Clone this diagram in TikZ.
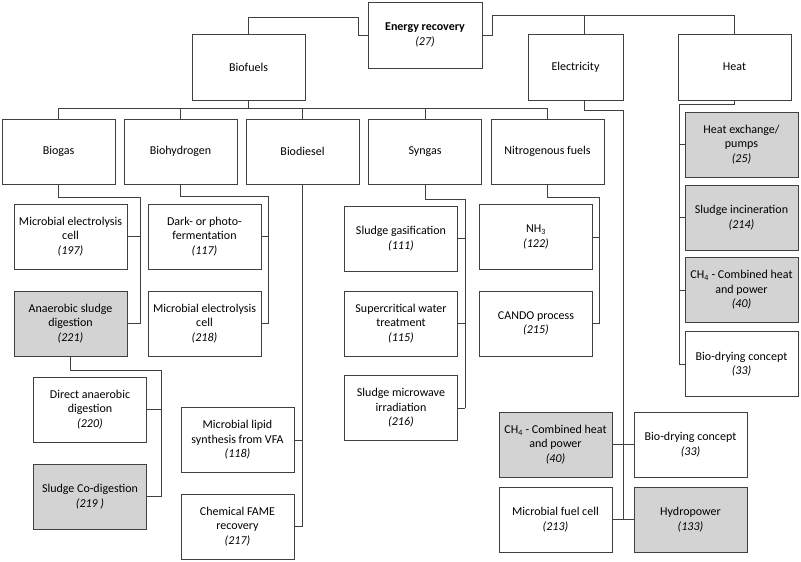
\documentclass[tikz,border=0pt]{standalone}
\usepackage{fontspec}
\setmainfont{Carlito}
\usepackage{tikz}
\usetikzlibrary{calc}

\definecolor{boxgray}{RGB}{211,211,211}
\definecolor{linegray}{RGB}{64,64,64}

\begin{document}
\begin{tikzpicture}[x=1pt, y=-1pt,
  box/.style={draw=linegray, line width=0.9pt, fill=white, minimum width=113pt,
    minimum height=65pt, inner sep=1pt, align=center, font=\fontsize{12}{14.5}\selectfont},
  shaded/.style={box, fill=boxgray},
  link/.style={draw=linegray, line width=0.9pt}]
  \useasboundingbox (0,0) rectangle (801,562);

  % Top level
  \node[box, minimum width=114pt, minimum height=66pt] (energy) at (425,35) {\textbf{Energy recovery}\\\textit{(27)}};
  \node[box, minimum height=66pt] (biofuels) at (248.5,67) {Biofuels};
  \node[box, minimum width=95pt, minimum height=66pt] (elec) at (575.5,67) {Electricity};
  \node[box, minimum height=66pt] (heat) at (734.5,67) {Heat};

  \coordinate (etop) at (492,15);
  \draw[link] (energy.west) -- ++(-9,0) -- ++(0,-18) -| (biofuels.north);
  \draw[link] (energy.east) -| (etop) -| (heat.north);
  \draw[link] ([xshift=9pt]elec.north) |- (etop);

  % Biofuel types
  \node[box] (biogas) at (58.5,151.5) {Biogas};
  \node[box] (biohyd) at (180.5,151.5) {Biohydrogen};
  \node[box] (biodiesel) at (302.5,151.5) {Biodiesel};
  \node[box] (syngas) at (425,151.5) {Syngas};
  \node[box] (nitro) at (547.5,151.5) {Nitrogenous fuels};

  \coordinate (fbus) at (248.5,108);
  \draw[link] (biofuels.south) -- (fbus);
  \foreach \n in {biogas,biohyd,biodiesel,syngas,nitro}
    \draw[link] (\n.north) |- (fbus);

  % Biogas
  \node[box] (mec1) at (70.5,236.5) {Microbial electrolysis\\cell\\\textit{(197)}};
  \node[shaded] (asd) at (70.5,323.5) {Anaerobic sludge\\digestion\\\textit{(221)}};
  \coordinate (gbus) at (140,197);
  \draw[link] (biogas.south) |- (gbus) -- (gbus |- asd.east);
  \foreach \n in {mec1,asd}
    \draw[link] (\n.east) -- (\n.east -| gbus);

  \node[box] (dad) at (90,409.5) {Direct anaerobic\\digestion\\\textit{(220)}};
  \node[shaded] (codig) at (90,496.5) {Sludge Co-digestion\\\textit{(219 )}};
  \coordinate (abus) at (161,370);
  \draw[link] (asd.south) |- (abus) -- (abus |- codig.east);
  \foreach \n in {dad,codig}
    \draw[link] (\n.east) -- (\n.east -| abus);

  % Biohydrogen
  \node[box] (dark) at (204.5,236.5) {Dark- or photo-\\fermentation\\\textit{(117)}};
  \node[box] (mec2) at (204.5,323.5) {Microbial electrolysis\\cell\\\textit{(218)}};
  \coordinate (hybus) at (268,196);
  \draw[link] (biohyd.south) |- (hybus) -- (hybus |- mec2.east);
  \foreach \n in {dark,mec2}
    \draw[link] (\n.east) -- (\n.east -| hybus);

  % Biodiesel
  \node[box] (lipid) at (237.5,440) {Microbial lipid\\synthesis from VFA\\\textit{(118)}};
  \node[box] (fame) at (237.5,526.5) {Chemical FAME\\recovery\\\textit{(217)}};
  \draw[link] (biodiesel.south) -- (biodiesel.south |- fame.east);
  \foreach \n in {lipid,fame}
    \draw[link] (\n.east) -- (\n.east -| biodiesel.south);

  % Syngas
  \node[box] (gasif) at (401,238.5) {Sludge gasification\\\textit{(111)}};
  \node[box] (scw) at (401,323.5) {Supercritical water\\treatment\\\textit{(115)}};
  \node[box] (micro) at (401,408) {Sludge microwave\\irradiation\\\textit{(216)}};
  \coordinate (sbus) at (465,199);
  \draw[link] (syngas.south) |- (sbus) -- (sbus |- micro.east);
  \foreach \n in {gasif,scw,micro}
    \draw[link] (\n.east) -- (\n.east -| sbus);

  % Nitrogenous fuels
  \node[box] (nh3) at (536,237) {NH\textsubscript{3}\\\textit{(122)}};
  \node[box] (cando) at (536,323.5) {CANDO process\\\textit{(215)}};
  \coordinate (nbus) at (599,197);
  \draw[link] (nitro.south) |- (nbus) -- (nbus |- cando.east);
  \foreach \n in {nh3,cando}
    \draw[link] (\n.east) -- (\n.east -| nbus);

  % Electricity
  \node[shaded] (chpe) at (555.5,444.5) {CH\textsubscript{4} - Combined heat\\and power\\\textit{(40)}};
  \node[box] (drye) at (690.5,444.5) {Bio-drying concept\\\textit{(33)}};
  \node[box] (mfc) at (555.5,519.5) {Microbial fuel cell\\\textit{(213)}};
  \node[shaded] (hydro) at (690.5,519.5) {Hydropower\\\textit{(133)}};
  \coordinate (ebus) at (623,110);
  \draw[link] ([xshift=9pt]elec.south) |- (ebus) -- (ebus |- hydro.west);
  \draw[link] (chpe.east) -- (drye.west);
  \draw[link] (mfc.east) -- (hydro.west);

  % Heat
  \node[shaded] (hex) at (741.5,144.5) {Heat exchange/\\pumps\\\textit{(25)}};
  \node[shaded] (hinc) at (741.5,217.5) {Sludge incineration\\\textit{(214)}};
  \node[shaded] (hchp) at (741.5,290) {CH\textsubscript{4} - Combined heat\\and power\\\textit{(40)}};
  \node[box] (hdry) at (741.5,364) {Bio-drying concept\\\textit{(33)}};
  \coordinate (htbus) at (679,104);
  \draw[link] (heat.south) |- (htbus) -- (htbus |- hdry.west);
  \foreach \n in {hex,hinc,hchp,hdry}
    \draw[link] (\n.west) -- (\n.west -| htbus);
\end{tikzpicture}
\end{document}
